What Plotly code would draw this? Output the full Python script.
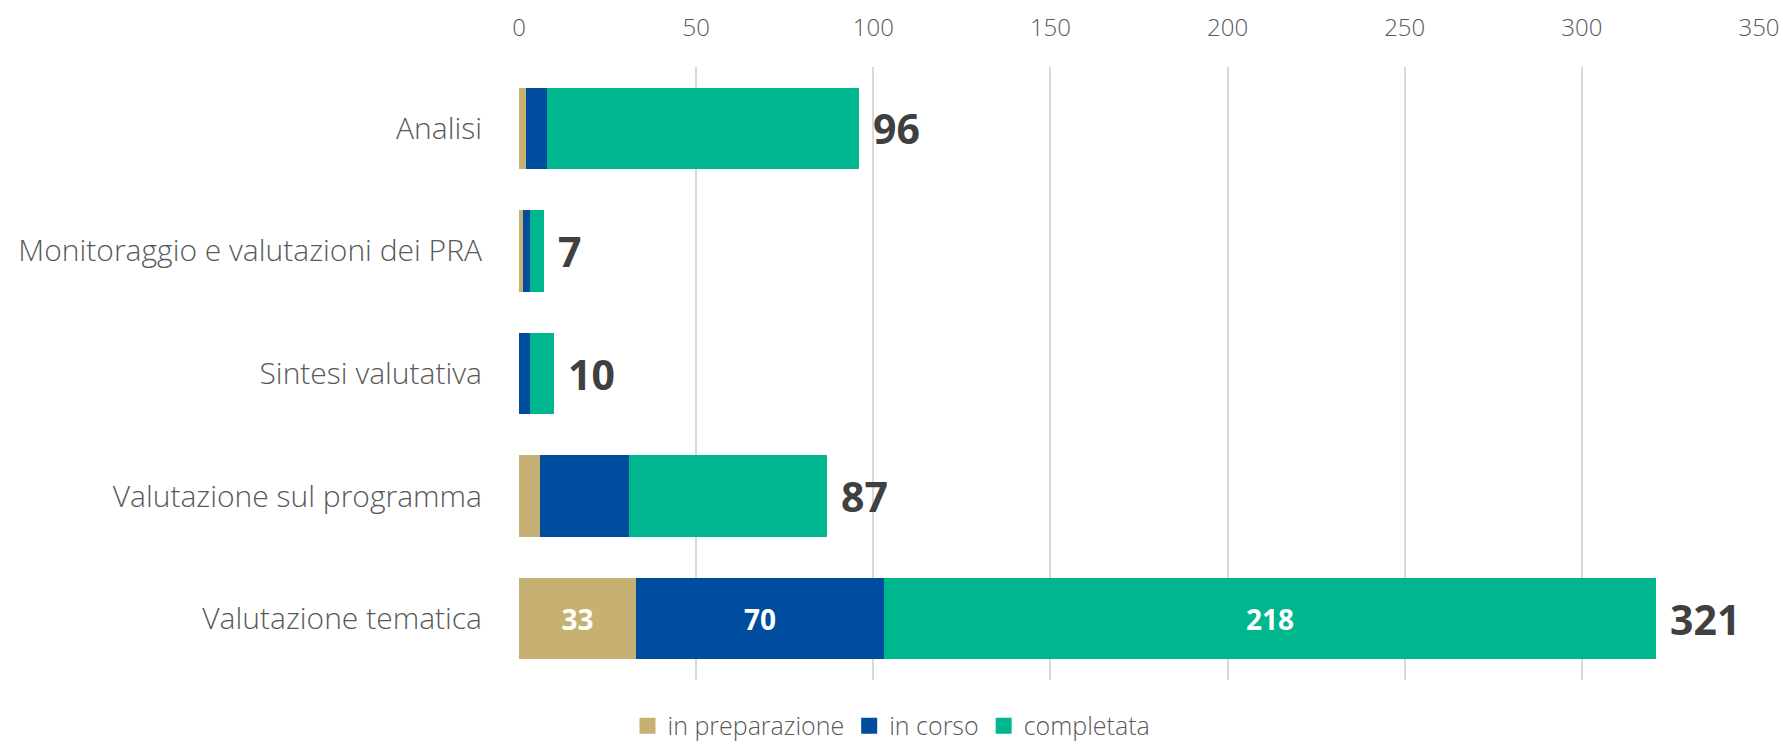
import plotly.graph_objects as go

categories = ["Analisi", "Monitoraggio e valutazioni dei PRA", "Sintesi valutativa",
              "Valutazione sul programma", "Valutazione tematica"]
in_preparazione = [2, 1, 0, 6, 33]
in_corso = [6, 2, 3, 25, 70]
completata = [88, 4, 7, 56, 218]
series_names = ["in preparazione", "in corso", "completata"]
colors = ["#C6B173", "#004C9E", "#00B68F"]
x_ticks = [0, 50, 100, 150, 200, 250, 300, 350]

totals = [a + b + c for a, b, c in zip(in_preparazione, in_corso, completata)]
labelled = "Valutazione tematica"

FONT = "Open Sans"
fig = go.Figure()
for name, vals, col in zip(series_names, [in_preparazione, in_corso, completata], colors):
    txt = [str(v) if c == labelled else "" for c, v in zip(categories, vals)]
    fig.add_trace(go.Bar(
        y=categories, x=vals, name=name, orientation="h",
        marker=dict(color=col, line=dict(width=0)),
        text=txt, textposition="inside", insidetextanchor="middle",
        textfont=dict(family=FONT, size=28, color="white", weight=700),
        hoverinfo="x+name", showlegend=False,
    ))
    # legend swatch proxy
    fig.add_trace(go.Scatter(
        x=[None], y=[None], mode="markers", name=name,
        marker=dict(symbol="square", size=17, color=col), showlegend=True,
    ))

for c, t in zip(categories, totals):
    fig.add_annotation(x=t, y=c, text=str(t), showarrow=False, xanchor="left",
                       xshift=12, font=dict(family=FONT, size=41, color="#404040", weight=700))

fig.update_layout(
    barmode="stack", bargap=0.335,
    width=1783, height=747,
    margin=dict(l=519, r=24, t=67, b=67, autoexpand=False),
    plot_bgcolor="white", paper_bgcolor="white",
    font=dict(family=FONT, color="#595959", weight=300),
    legend=dict(orientation="h", xref="container", yref="paper", x=0.5, xanchor="center",
                y=-0.075, yanchor="middle", font=dict(family=FONT, size=25, color="#595959", weight=300),
                traceorder="normal", itemwidth=30),
    xaxis=dict(side="top", range=[0, 350], tickvals=x_ticks, showgrid=True, gridcolor="#D9D9D9",
               gridwidth=1.5, zeroline=False, showline=False, ticklabelstandoff=25, automargin=False,
               tickfont=dict(family=FONT, size=24, color="#595959", weight=300)),
    yaxis=dict(categoryorder="array", categoryarray=categories[::-1], showgrid=False,
               zeroline=False, showline=False, ticklabelstandoff=36, automargin=False,
               tickfont=dict(family=FONT, size=30, color="#595959", weight=300)),
)

fig.write_html("out.html", config={"displayModeBar": False},
               post_script="document.body.style.margin='0';document.body.style.overflow='hidden';")
